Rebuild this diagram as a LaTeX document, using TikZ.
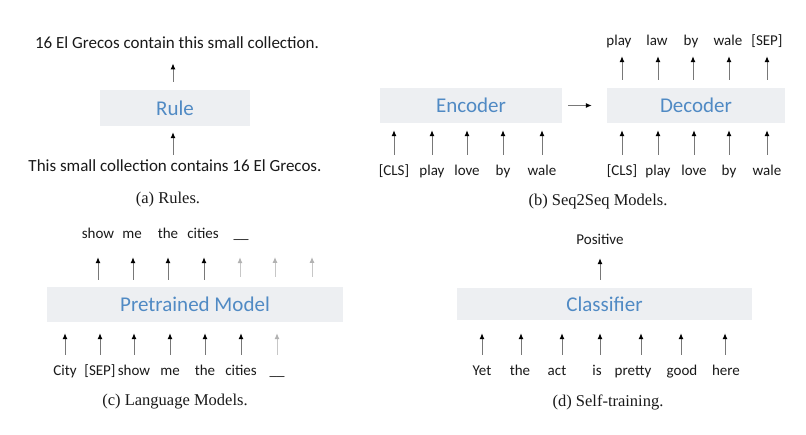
\documentclass[tikz,border=0pt]{standalone}
\usepackage{fontspec}
\setmainfont{Liberation Serif}
\newfontfamily\carl{Carlito}
\usetikzlibrary{arrows.meta}
\definecolor{boxfill}{RGB}{237,239,242}
\definecolor{boxtext}{RGB}{80,138,196}
\definecolor{shaft}{RGB}{120,120,120}
\tikzset{
  tok/.style={font=\carl\fontsize{15}{18}\selectfont, inner sep=0pt, text height=10pt, text depth=3pt, text=black!90},
  sent/.style={font=\carl\fontsize{17}{20}\selectfont, inner sep=0pt, text height=11pt, text depth=3.5pt, text=black!90},
  model/.style={fill=boxfill, inner sep=0pt, font=\carl\fontsize{21}{25}\selectfont, text=boxtext},
  captext/.style={font=\fontsize{16.5}{20}\selectfont, inner sep=0pt, text=black!90},
  arr/.style={draw=shaft, line width=1pt, -{Latex[length=6pt,width=5pt,color=black]}},
  garr/.style={draw=black!22, line width=1pt, -{Latex[length=6pt,width=5pt,color=black!30]}}
}
\begin{document}
\begin{tikzpicture}[x=1pt,y=-1pt]
\useasboundingbox (0,0) rectangle (806,435);

% (a) Rules
\node[sent] (aout) at (177,45) {16 El Grecos contain this small collection.};
\node[model, minimum width=150pt, minimum height=36pt] (rule) at (175,108) {Rule};
\node[sent] (ain) at (175,168) {This small collection contains 16 El Grecos.};
\node[captext] (capa) at (168,200) {(a) Rules.};
\draw[arr, shorten <=8pt, shorten >=11pt] ([xshift=-2pt]rule.north) -- ([xshift=-2pt]rule.north |- aout.south);
\draw[arr, shorten <=6pt, shorten >=6pt] ([xshift=-2pt]ain.north) -- ([xshift=-2pt]ain.north |- rule.south);

% (b) Seq2Seq
\node[model, minimum width=182pt, minimum height=35pt] (enc) at (471,105.5) {Encoder};
\node[model, minimum width=178pt, minimum height=35pt] (dec) at (696,105.5) {Decoder};
\draw[arr, shorten <=6pt, shorten >=15pt] (enc.east) -- (dec.west);
\node[tok] (e1) at (394,172) {[CLS]};
\node[tok] (e2) at (432,172) {play};
\node[tok] (e3) at (467,172) {love};
\node[tok] (e4) at (503,172) {by};
\node[tok] (e5) at (542,172) {wale};
\foreach \n in {e1,e2,e3,e4,e5}
  \draw[arr, shorten <=10.5pt, shorten >=7pt] (\n.north) -- (\n.north |- enc.south);
\node[tok] (d1) at (622,172) {[CLS]};
\node[tok] (d2) at (658,172) {play};
\node[tok] (d3) at (694,172) {love};
\node[tok] (d4) at (729,172) {by};
\node[tok] (d5) at (767,172) {wale};
\foreach \n in {d1,d2,d3,d4,d5}
  \draw[arr, shorten <=10.5pt, shorten >=7pt] (\n.north) -- (\n.north |- dec.south);
\node[tok] (o1) at (619,42) {play};
\node[tok] (o2) at (657,42) {law};
\node[tok] (o3) at (691,42) {by};
\node[tok] (o4) at (728,42) {wale};
\node[tok] (o5) at (767,42) {[SEP]};
\draw[arr, shorten <=8pt, shorten >=7.5pt] ([xshift=3pt]o1.south |- dec.north) -- ([xshift=3pt]o1.south);
\draw[arr, shorten <=8pt, shorten >=7.5pt] ([xshift=1pt]o2.south |- dec.north) -- ([xshift=1pt]o2.south);
\draw[arr, shorten <=8pt, shorten >=7.5pt] ([xshift=2pt]o3.south |- dec.north) -- ([xshift=2pt]o3.south);
\draw[arr, shorten <=8pt, shorten >=7.5pt] ([xshift=1pt]o4.south |- dec.north) -- ([xshift=1pt]o4.south);
\draw[arr, shorten <=8pt, shorten >=7.5pt] (o5.south |- dec.north) -- (o5.south);
\node[captext] (capb) at (598,202) {(b) Seq2Seq Models.};

% (c) Language Models
\node[model, minimum width=296pt, minimum height=35pt] (pm) at (195,304.5) {Pretrained Model};
\node[tok] (t1) at (98,235) {show};
\node[tok] (t2) at (132,235) {me};
\node[tok] (t3) at (168,235) {the};
\node[tok] (t4) at (203,235) {cities};
\node[tok] (t5) at (241,235) {\_\_};
\coordinate (g6) at (275,241.5);
\coordinate (g7) at (312,241.5);
\draw[arr, shorten <=7pt, shorten >=15.5pt] (t1.south |- pm.north) -- (t1.south);
\draw[arr, shorten <=7pt, shorten >=15.5pt] ([xshift=1pt]t2.south |- pm.north) -- ([xshift=1pt]t2.south);
\draw[arr, shorten <=7pt, shorten >=15.5pt] (t3.south |- pm.north) -- (t3.south);
\draw[arr, shorten <=7pt, shorten >=15.5pt] ([xshift=1pt]t4.south |- pm.north) -- ([xshift=1pt]t4.south);
\draw[garr, shorten <=10pt, shorten >=15.5pt] ([xshift=-1pt]t5.south |- pm.north) -- ([xshift=-1pt]t5.south);
\draw[garr, shorten <=10pt, shorten >=15.5pt] (g6 |- pm.north) -- (g6);
\draw[garr, shorten <=10pt, shorten >=15.5pt] (g7 |- pm.north) -- (g7);
\node[tok] (c1) at (65,372) {City};
\node[tok] (c2) at (100,372) {[SEP]};
\node[tok] (c3) at (134,372) {show};
\node[tok] (c4) at (170,372) {me};
\node[tok] (c5) at (205,372) {the};
\node[tok] (c6) at (241,372) {cities};
\node[tok] (c7) at (277,372) {\_\_};
\foreach \n in {c1,c2,c3,c4,c5,c6}
  \draw[arr, shorten <=10.5pt, shorten >=11pt] (\n.north) -- (\n.north |- pm.south);
\draw[garr, shorten <=10.5pt, shorten >=11pt] (c7.north) -- (c7.north |- pm.south);
\node[captext] (capc) at (175,402) {(c) Language Models.};

% (d) Self-training
\node[model, minimum width=295pt, minimum height=32pt] (cls) at (604.5,304) {Classifier};
\node[tok] (pos) at (600,241) {Positive};
\draw[arr, shorten <=8pt, shorten >=10.5pt] (pos.south |- cls.north) -- (pos.south);
\node[tok] (s1) at (482,372) {Yet};
\node[tok] (s2) at (520,372) {the};
\node[tok] (s3) at (557,372) {act};
\node[tok] (s4) at (597,372) {is};
\node[tok] (s5) at (633,372) {pretty};
\node[tok] (s6) at (682,372) {good};
\node[tok] (s7) at (726,372) {here};
\draw[arr, shorten <=10.5pt, shorten >=13pt] (s1.north) -- (s1.north |- cls.south);
\draw[arr, shorten <=10.5pt, shorten >=13pt] ([xshift=1pt]s2.north) -- ([xshift=1pt]s2.north |- cls.south);
\draw[arr, shorten <=10.5pt, shorten >=13pt] ([xshift=5pt]s3.north) -- ([xshift=5pt]s3.north |- cls.south);
\draw[arr, shorten <=10.5pt, shorten >=13pt] ([xshift=3pt]s4.north) -- ([xshift=3pt]s4.north |- cls.south);
\draw[arr, shorten <=10.5pt, shorten >=13pt] ([xshift=8pt]s5.north) -- ([xshift=8pt]s5.north |- cls.south);
\draw[arr, shorten <=10.5pt, shorten >=13pt] ([xshift=-1pt]s6.north) -- ([xshift=-1pt]s6.north |- cls.south);
\draw[arr, shorten <=10.5pt, shorten >=13pt] ([xshift=-1pt]s7.north) -- ([xshift=-1pt]s7.north |- cls.south);
\node[captext] (capd) at (608,402) {(d) Self-training.};
\end{tikzpicture}
\end{document}
